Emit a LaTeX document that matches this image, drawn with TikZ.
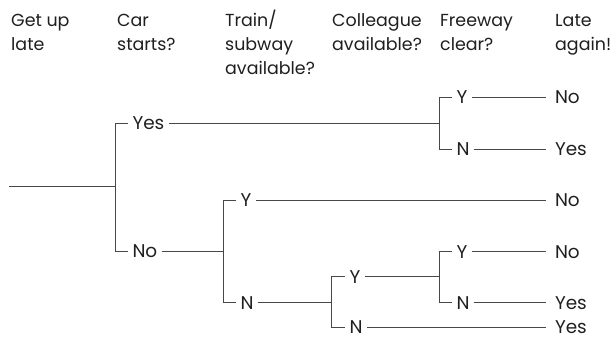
\documentclass[tikz,border=0pt]{standalone}
\usepackage{fontspec}
\setmainfont{Poppins}
\begin{document}
\begin{tikzpicture}[x=1bp,y=-1bp,
  hdr/.style={anchor=base west, align=left, inner sep=0pt, text=black!88,
    font=\fontsize{17.5}{24}\selectfont},
  br/.style={anchor=west, inner xsep=0pt, inner ysep=1bp, outer xsep=4.5bp, text=black!88,
    font=\fontsize{18.5}{24}\selectfont},
  leaf/.style={anchor=west, inner xsep=0pt, inner ysep=1bp, outer xsep=9bp, text=black!88,
    font=\fontsize{18.5}{24}\selectfont},
  ln/.style={draw=black!72, line width=0.85bp}]
\useasboundingbox (0,0) rectangle (611,337);
% headers (base anchor = baseline of last line)
\node[hdr] (h1) at (11,50) {Get up\\late};
\node[hdr] (h2) at (117,50) {Car\\starts?};
\node[hdr] (h3) at (225,74) {Train/\\subway\\available?};
\node[hdr] (h4) at (332,50) {Colleague\\available?};
\node[hdr] (h5) at (440,50) {Freeway\\clear?};
\node[hdr] (h6) at (555,50) {Late\\again!};
% branch points
\coordinate (r0) at (9.3,186.7);
\coordinate (v1) at (115,186.7);
\coordinate (fw1) at (439.3,123);
\coordinate (tv) at (223,251);
\coordinate (cv) at (331.7,302.7);
\coordinate (fw2) at (439.3,276.7);
% labels
\node[br] (yes) at (128,123) {Yes};
\node[br] (no) at (128,251) {No};
\node[br] (fy1) at (452,97) {Y};
\node[br] (fn1) at (452,149) {N};
\node[br] (ty) at (236,200) {Y};
\node[br] (tn) at (236,302.7) {N};
\node[br] (cy) at (345,276.7) {Y};
\node[br] (cn) at (345,327) {N};
\node[br] (fy2) at (452,251.7) {Y};
\node[br] (fn2) at (452,302.7) {N};
% leaves
\node[leaf] (l1) at (546,97) {No};
\node[leaf] (l2) at (546,149) {Yes};
\node[leaf] (l3) at (546,200) {No};
\node[leaf] (l4) at (546,251.7) {No};
\node[leaf] (l5) at (546,302.7) {Yes};
\node[leaf] (l6) at (546,327) {Yes};
% connectors
\draw[ln] (r0) -- (v1);
\draw[ln] (v1) |- (yes.west);
\draw[ln] (v1) |- (no.west);
\draw[ln] (yes.east) -- (fw1);
\draw[ln] (fw1) |- (fy1.west);
\draw[ln] (fw1) |- (fn1.west);
\draw[ln] (fy1.east) -- (l1.west);
\draw[ln] (fn1.east) -- (l2.west);
\draw[ln] (no.east) -- (tv);
\draw[ln] (tv) |- (ty.west);
\draw[ln] (tv) |- (tn.west);
\draw[ln] (ty.east) -- (l3.west);
\draw[ln] (tn.east) -- (cv);
\draw[ln] (cv) |- (cy.west);
\draw[ln] (cv) |- (cn.west);
\draw[ln] (cn.east) -- (l6.west);
\draw[ln] (cy.east) -- (fw2);
\draw[ln] (fw2) |- (fy2.west);
\draw[ln] (fw2) |- (fn2.west);
\draw[ln] (fy2.east) -- (l4.west);
\draw[ln] (fn2.east) -- (l5.west);
\end{tikzpicture}
\end{document}
